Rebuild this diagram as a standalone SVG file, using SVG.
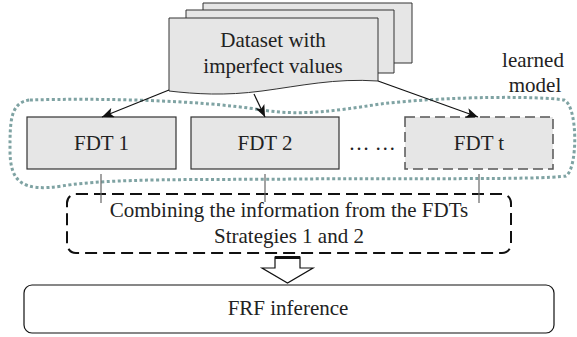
<svg xmlns="http://www.w3.org/2000/svg" width="577" height="337" viewBox="0 0 577 337">
  <style>
    text { font-family: 'Liberation Serif', 'DejaVu Serif', serif; font-size: 21px; fill: #222; text-anchor: middle; }
    .sheet { fill: #e6e6e6; stroke: #333; stroke-width: 1; }
    .fdt { fill: #e6e6e6; stroke: #333; stroke-width: 1.2; }
    .tick { stroke: #666; stroke-width: 1.2; }
    .conn { stroke: #111; stroke-width: 1.2; fill: none; marker-end: url(#head); }
  </style>
  <defs>
    <marker id="head" viewBox="0 0 12 10" refX="12" refY="5" markerWidth="12" markerHeight="10" markerUnits="userSpaceOnUse" orient="auto">
      <path d="M0,0 L12,5 L0,10 L3,5 Z" fill="#111"/>
    </marker>
  </defs>

  <!-- stacked dataset sheets -->
  <g id="dataset">
    <path class="sheet" d="M203,3 H412 V63 H203 Z"/>
    <path class="sheet" d="M186,10 H394 V73 H186 Z"/>
    <path class="sheet" d="M169,18 H378 V81 C335,78 300,86 262,91 C225,96 195,94 169,91 Z"/>
    <text x="273" y="47" font-family="Liberation Serif, serif">Dataset with</text>
    <text x="273" y="73" font-family="Liberation Serif, serif">imperfect values</text>
  </g>

  <!-- learned model outline -->
  <g id="learned-model">
    <path d="M30,100 C100,98 200,100 262,110 C300,116 335,111 380,104 C450,96 540,96 564,100 C578,106 578,168 566,176 C540,180 400,178 300,179 C200,180 110,178 62,186 C22,192 10,182 10,150 C10,122 10,102 30,100 Z"
          fill="none" stroke="#7fa3a3" stroke-width="3" stroke-dasharray="3 2.5"/>
    <text x="533" y="67" font-family="Liberation Serif, serif" font-size="20">learned</text>
    <text x="535" y="92" font-family="Liberation Serif, serif" font-size="20">model</text>
  </g>

  <!-- forest members -->
  <g id="fdt1">
    <rect class="fdt" x="27" y="117" width="149" height="52"/>
    <text x="101.5" y="150" font-family="Liberation Serif, serif">FDT 1</text>
  </g>
  <g id="fdt2">
    <rect class="fdt" x="191" y="117" width="148" height="52"/>
    <text x="265" y="150" font-family="Liberation Serif, serif">FDT 2</text>
  </g>
  <g id="ellipsis">
    <text x="372" y="150" font-family="Liberation Serif, serif">… …</text>
  </g>
  <g id="fdtt">
    <rect x="405" y="117" width="148" height="52" fill="#e6e6e6" stroke="#555" stroke-width="1.5" stroke-dasharray="10 5"/>
    <text x="479" y="150" font-family="Liberation Serif, serif">FDT t</text>
  </g>

  <!-- combination step -->
  <g id="combine">
    <rect x="67" y="194" width="444" height="59" rx="9" fill="none" stroke="#111" stroke-width="2" stroke-dasharray="12 6"/>
    <text x="289" y="217" font-family="Liberation Serif, serif">Combining the information from the FDTs</text>
    <text x="289" y="243" font-family="Liberation Serif, serif">Strategies 1 and 2</text>
  </g>

  <!-- final inference -->
  <g id="frf">
    <rect x="24" y="285" width="530" height="48" rx="8" fill="#fff" stroke="#111" stroke-width="1.2"/>
    <text x="288" y="315" font-family="Liberation Serif, serif">FRF inference</text>
  </g>

  <!-- connectors -->
  <g id="connectors">
    <line class="conn" x1="169" y1="90" x2="102" y2="117"/>
    <line class="conn" x1="254" y1="94" x2="265" y2="117"/>
    <line class="conn" x1="378" y1="81" x2="478" y2="117"/>
    <line class="tick" x1="101" y1="174" x2="101" y2="203"/>
    <line class="tick" x1="265" y1="174" x2="265" y2="202" stroke="#222"/>
    <line class="tick" x1="479" y1="174" x2="479" y2="203"/>
    <path d="M275,257 H300 V268 H313 L287.5,283 L262,268 H275 Z" fill="#fff" stroke="#111" stroke-width="1.2"/>
    <line x1="275" y1="257.5" x2="300" y2="257.5" stroke="#111" stroke-width="3"/>
  </g>
</svg>
